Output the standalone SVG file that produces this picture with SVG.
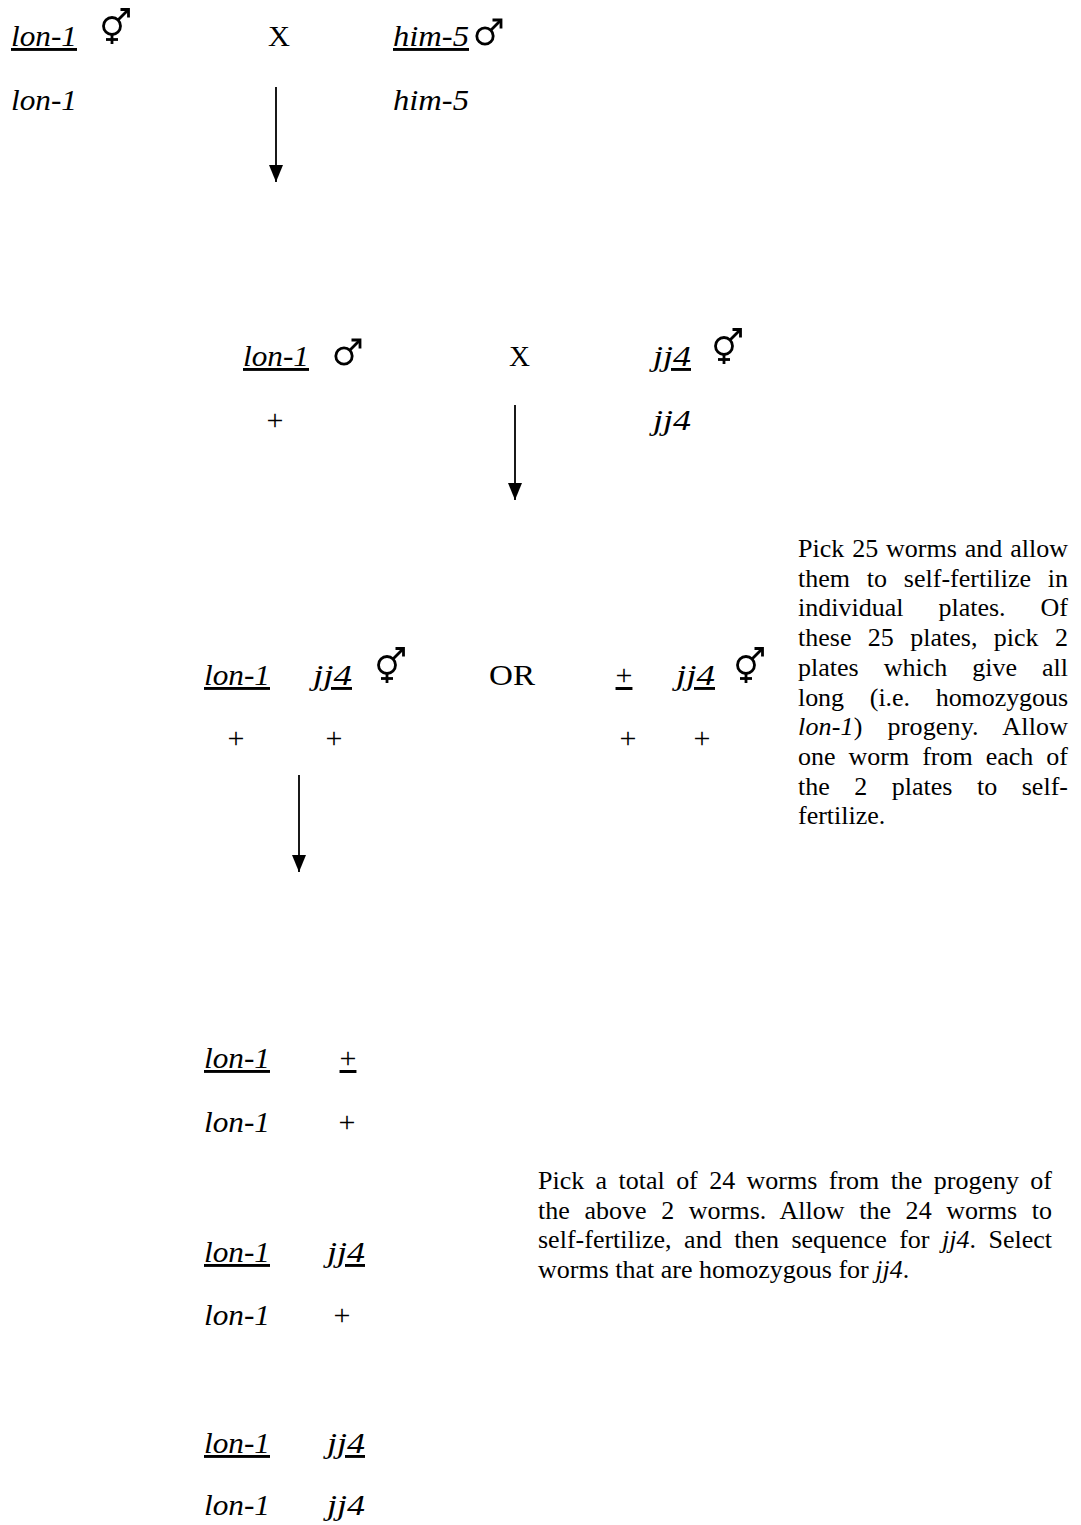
<svg xmlns="http://www.w3.org/2000/svg" width="1081" height="1525" viewBox="0 0 1081 1525">
<style>
  text { fill: #000; }
  .g { font-family: "Liberation Serif", "Times New Roman", serif; font-style: italic; font-size: 29px; }
  .r { font-family: "Liberation Serif", "Times New Roman", serif; font-size: 29px; }
  .pl { font-family: "Liberation Serif", "Times New Roman", serif; font-size: 30px; text-anchor: middle; }
  .u { text-decoration: underline; }
  .p { font-family: "Liberation Serif", "Times New Roman", serif; font-size: 26px; }
  .i { font-style: italic; }
  .sym { fill: none; stroke: #000; stroke-width: 2.8; stroke-linecap: butt; }
  .arrow { stroke: #000; stroke-width: 1.8; fill: none; }
</style>
<defs>
  <marker id="ah" viewBox="0 0 17 14" refX="17" refY="7" markerWidth="17" markerHeight="14" markerUnits="userSpaceOnUse" orient="auto">
    <path d="M0,0 L17,7 L0,14 Z" fill="#000"/>
  </marker>
  <g id="herm" class="sym">
    <circle cx="0" cy="0" r="8.5"/>
    <line x1="0" y1="8.5" x2="0" y2="18"/>
    <line x1="-6" y1="13.5" x2="6" y2="13.5"/>
    <line x1="6" y1="-6" x2="15.5" y2="-15.5"/>
    <polyline points="8.5,-16.5 16.5,-16.5 16.5,-8.5"/>
  </g>
  <g id="male" class="sym">
    <circle cx="0" cy="0" r="8.2"/>
    <line x1="5.8" y1="-5.8" x2="15" y2="-15"/>
    <polyline points="7.5,-16 16,-16 16,-7.5"/>
  </g>
</defs>
<rect width="1081" height="1525" fill="#fff"/>

<g id="cross1">
  <text class="g u" x="11" y="46" textLength="66" lengthAdjust="spacingAndGlyphs">lon-1</text>
  <use href="#herm" x="112" y="26"/>
  <text class="r" x="268" y="46" textLength="22" lengthAdjust="spacingAndGlyphs">X</text>
  <text class="g u" x="393" y="46" textLength="76" lengthAdjust="spacingAndGlyphs">him-5</text>
  <use href="#male" x="485" y="36"/>
  <text class="g" x="11" y="110" textLength="66" lengthAdjust="spacingAndGlyphs">lon-1</text>
  <text class="g" x="393" y="110" textLength="76" lengthAdjust="spacingAndGlyphs">him-5</text>
</g>

<g id="cross2">
  <text class="g u" x="243" y="366" textLength="66" lengthAdjust="spacingAndGlyphs">lon-1</text>
  <use href="#male" x="344" y="356"/>
  <text class="r" x="509" y="366" textLength="21" lengthAdjust="spacingAndGlyphs">X</text>
  <text class="g u" x="653" y="366" textLength="38" lengthAdjust="spacingAndGlyphs">jj4</text>
  <use href="#herm" x="724" y="346"/>
  <text class="pl" x="275" y="430">+</text>
  <text class="g" x="653" y="430" textLength="38" lengthAdjust="spacingAndGlyphs">jj4</text>
</g>

<g id="progeny1">
  <text class="g u" x="204" y="685" textLength="66" lengthAdjust="spacingAndGlyphs">lon-1</text>
  <text class="g u" x="313" y="685" textLength="39" lengthAdjust="spacingAndGlyphs">jj4</text>
  <use href="#herm" x="387" y="665"/>
  <text class="r" x="489" y="685" textLength="46" lengthAdjust="spacingAndGlyphs">OR</text>
  <text class="pl u" x="624" y="685">+</text>
  <text class="g u" x="676" y="685" textLength="39" lengthAdjust="spacingAndGlyphs">jj4</text>
  <use href="#herm" x="746" y="665"/>
  <text class="pl" x="236" y="748">+</text>
  <text class="pl" x="334" y="748">+</text>
  <text class="pl" x="628" y="748">+</text>
  <text class="pl" x="702" y="748">+</text>
</g>

<g id="note1">
  <text class="p" x="798" y="557" textLength="270" lengthAdjust="spacing" style="word-spacing:1.4px">Pick 25 worms and allow</text>
  <text class="p" x="798" y="586.7" textLength="270" lengthAdjust="spacing" style="word-spacing:10.3px">them to self-fertilize in</text>
  <text class="p" x="798" y="616.4" textLength="270" lengthAdjust="spacing" style="word-spacing:28.5px">individual plates. Of</text>
  <text class="p" x="798" y="646.1" textLength="270" lengthAdjust="spacing" style="word-spacing:9.9px">these 25 plates, pick 2</text>
  <text class="p" x="798" y="675.8" textLength="270" lengthAdjust="spacing" style="word-spacing:18.5px">plates which give all</text>
  <text class="p" x="798" y="705.5" textLength="270" lengthAdjust="spacing" style="word-spacing:19.4px">long (i.e. homozygous</text>
  <text class="p" x="798" y="735.2" textLength="270" lengthAdjust="spacing" style="word-spacing:18.4px"><tspan class="i">lon-1</tspan>) progeny. Allow</text>
  <text class="p" x="798" y="764.9" textLength="270" lengthAdjust="spacing" style="word-spacing:6.5px">one worm from each of</text>
  <text class="p" x="798" y="794.6" textLength="270" lengthAdjust="spacing" style="word-spacing:18px">the 2 plates to self-</text>
  <text class="p" x="798" y="824.3">fertilize.</text>
</g>

<g id="f2a">
  <text class="g u" x="204" y="1068" textLength="66" lengthAdjust="spacingAndGlyphs">lon-1</text>
  <text class="pl u" x="348" y="1068">+</text>
  <text class="g" x="204" y="1132" textLength="66" lengthAdjust="spacingAndGlyphs">lon-1</text>
  <text class="pl" x="347" y="1132">+</text>
</g>

<g id="f2b">
  <text class="g u" x="204" y="1262" textLength="66" lengthAdjust="spacingAndGlyphs">lon-1</text>
  <text class="g u" x="327" y="1262" textLength="38" lengthAdjust="spacingAndGlyphs">jj4</text>
  <text class="g" x="204" y="1325" textLength="66" lengthAdjust="spacingAndGlyphs">lon-1</text>
  <text class="pl" x="342" y="1325">+</text>
</g>

<g id="f2c">
  <text class="g u" x="204" y="1453" textLength="66" lengthAdjust="spacingAndGlyphs">lon-1</text>
  <text class="g u" x="327" y="1453" textLength="38" lengthAdjust="spacingAndGlyphs">jj4</text>
  <text class="g" x="204" y="1515" textLength="66" lengthAdjust="spacingAndGlyphs">lon-1</text>
  <text class="g" x="327" y="1515" textLength="38" lengthAdjust="spacingAndGlyphs">jj4</text>
</g>

<g id="note2">
  <text class="p" x="538" y="1189" textLength="514" lengthAdjust="spacing" style="word-spacing:4.9px">Pick a total of 24 worms from the progeny of</text>
  <text class="p" x="538" y="1218.7" textLength="514" lengthAdjust="spacing" style="word-spacing:8px">the above 2 worms. Allow the 24 worms to</text>
  <text class="p" x="538" y="1248.4" textLength="514" lengthAdjust="spacing" style="word-spacing:6px">self-fertilize, and then sequence for <tspan class="i">jj4</tspan>. Select</text>
  <text class="p" x="538" y="1278.1">worms that are homozygous for <tspan class="i">jj4</tspan>.</text>
</g>

<g id="connectors">
  <line class="arrow" x1="276" y1="87" x2="276" y2="182" marker-end="url(#ah)"/>
  <line class="arrow" x1="515" y1="405" x2="515" y2="500" marker-end="url(#ah)"/>
  <line class="arrow" x1="299" y1="775" x2="299" y2="872" marker-end="url(#ah)"/>
</g>
</svg>
